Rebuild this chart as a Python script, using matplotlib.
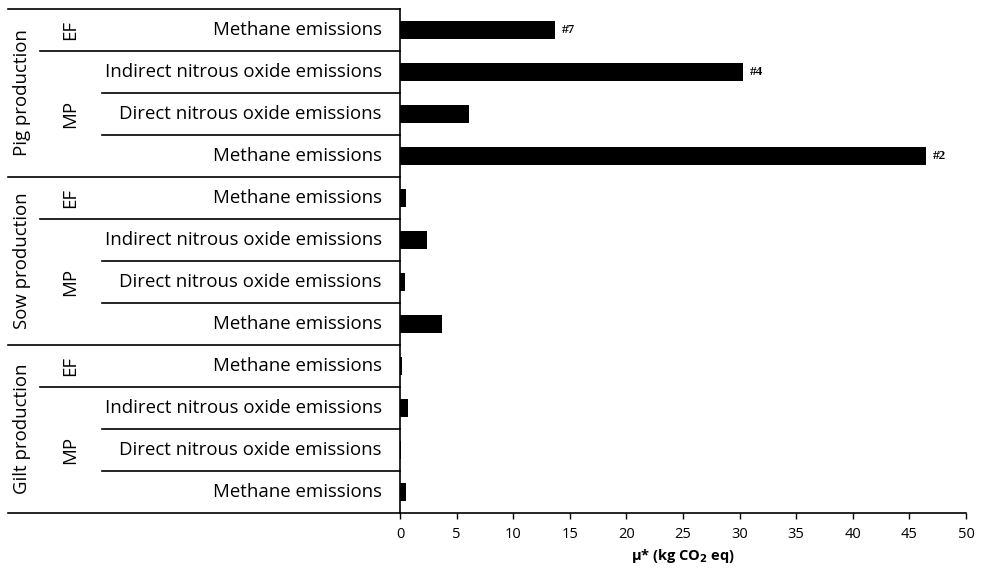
import numpy as np
import matplotlib
matplotlib.use("Agg")
import matplotlib.pyplot as plt
import matplotlib.transforms as mtransforms

plt.rcParams['font.family'] = ['Open Sans', 'DejaVu Sans']
plt.rcParams['font.serif'] = ['Liberation Serif', 'DejaVu Serif']

# Data
groups = ["Pig production", "Sow production", "Gilt production"]
row_labels = ["Methane emissions", "Indirect nitrous oxide emissions",
              "Direct nitrous oxide emissions", "Methane emissions"]
row_kind = ["EF", "MP", "MP", "MP"]
pig_values = [13.7, 30.3, 6.1, 46.5]
sow_values = [0.5, 2.4, 0.4, 3.7]
gilt_values = [0.2, 0.7, 0.1, 0.5]
pig_ranks = ["#7", "#4", "", "#2"]
x_ticks = [0, 5, 10, 15, 20, 25, 30, 35, 40, 45, 50]

values = pig_values + sow_values + gilt_values
ranks = pig_ranks + [""] * 8
labels = row_labels * 3
y = np.arange(len(values))

fig = plt.figure(figsize=(9.84, 5.82), dpi=100)
ax = fig.add_axes([0.4065, 0.1186, 0.9817 - 0.4065, 0.9845 - 0.1186])

ax.barh(y, values, height=0.43, color="black")
ax.set_xlim(0, 50)
ax.set_ylim(len(values) - 0.5, -0.5)

# rank labels after bars
for yi, v, r in zip(y, values, ranks):
    if r:
        ax.annotate(r, (v, yi), xytext=(5, 0), textcoords="offset points",
                    va="center", ha="left", fontsize=9.5, fontweight="bold",
                    fontfamily="serif")

# spines and ticks
for s in ["top", "right"]:
    ax.spines[s].set_visible(False)
ax.spines["left"].set_linewidth(1.2)
ax.spines["bottom"].set_linewidth(1.2)
ax.set_yticks([])
ax.set_xticks(x_ticks)
ax.tick_params(axis="x", direction="out", length=4, width=1, labelsize=10.5, pad=6)
ax.set_xlabel("μ* (kg CO$_\\mathbf{2}$ eq)", fontsize=10.5, fontweight="bold", labelpad=4)

# left-side table lines
trans = mtransforms.blended_transform_factory(ax.transAxes, ax.transData)
x_outer = -0.6926
x_kind = -0.636
x_row = -0.5265
fs = 13.4
for g in range(3):
    top = g * 4 - 0.5
    ax.plot([x_outer, 0], [top, top], color="black", lw=1.2, transform=trans, clip_on=False)
    ax.plot([x_kind, 0], [top + 1, top + 1], color="black", lw=1.2, transform=trans, clip_on=False)
    for k in (2, 3):
        ax.plot([x_row, 0], [top + k, top + k], color="black", lw=1.2, transform=trans, clip_on=False)
    ax.text(-0.668, g * 4 + 1.5, groups[g], rotation=90, ha="center", va="center",
            fontsize=fs, transform=trans)
    ax.text(-0.583, g * 4, "EF", rotation=90, ha="center", va="center",
            fontsize=fs, transform=trans)
    ax.text(-0.583, g * 4 + 2, "MP", rotation=90, ha="center", va="center",
            fontsize=fs, transform=trans)
ax.plot([x_outer, 0], [11.5, 11.5], color="black", lw=1.2, transform=trans, clip_on=False)

for yi, lab in zip(y, labels):
    ax.text(-0.032, yi, lab, ha="right", va="center", fontsize=fs, transform=trans)

fig.savefig("out.png", dpi=100)
